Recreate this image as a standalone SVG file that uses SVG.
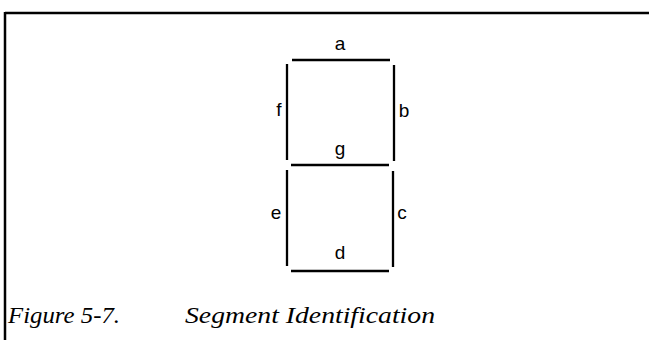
<svg xmlns="http://www.w3.org/2000/svg" width="649" height="340" viewBox="0 0 649 340">
<style>
.seg{stroke:#000;stroke-width:2.3;fill:none;stroke-linecap:butt}
.lbl{font-family:"Liberation Sans",Arial,sans-serif;font-size:19px;fill:#000;text-anchor:middle}
.cap{font-family:"Liberation Serif","DejaVu Serif",serif;font-style:italic;font-size:24px;fill:#000}
</style>
<rect width="649" height="340" fill="#fff"/>
<g id="frame">
<line x1="5" y1="13" x2="649" y2="13" stroke="#000" stroke-width="2.5"/>
<line x1="5" y1="12" x2="5" y2="340" stroke="#000" stroke-width="2.5"/>
</g>
<g id="connectors">
<g id="seg-a"><line class="seg" x1="292" y1="60" x2="390" y2="60"/></g>
<g id="seg-b"><line class="seg" x1="394" y1="65" x2="394" y2="161"/></g>
<g id="seg-c"><line class="seg" x1="393" y1="171" x2="393" y2="267"/></g>
<g id="seg-d"><line class="seg" x1="291" y1="271" x2="389" y2="271"/></g>
<g id="seg-e"><line class="seg" x1="287" y1="170" x2="287" y2="266"/></g>
<g id="seg-f"><line class="seg" x1="287" y1="64" x2="287" y2="160"/></g>
<g id="seg-g"><line class="seg" x1="291" y1="165" x2="389" y2="165"/></g>
</g>
<g id="label-a"><text class="lbl" x="340" y="50">a</text></g>
<g id="label-b"><text class="lbl" x="404" y="117">b</text></g>
<g id="label-f"><text class="lbl" x="279" y="116">f</text></g>
<g id="label-g"><text class="lbl" x="340" y="155">g</text></g>
<g id="label-e"><text class="lbl" x="276" y="219">e</text></g>
<g id="label-c"><text class="lbl" x="402" y="219">c</text></g>
<g id="label-d"><text class="lbl" x="340" y="259">d</text></g>
<g id="caption">
<text class="cap" x="8" y="323" textLength="112" lengthAdjust="spacingAndGlyphs">Figure 5-7.</text>
<text class="cap" x="185" y="323" textLength="250" lengthAdjust="spacingAndGlyphs">Segment Identification</text>
</g>
</svg>
